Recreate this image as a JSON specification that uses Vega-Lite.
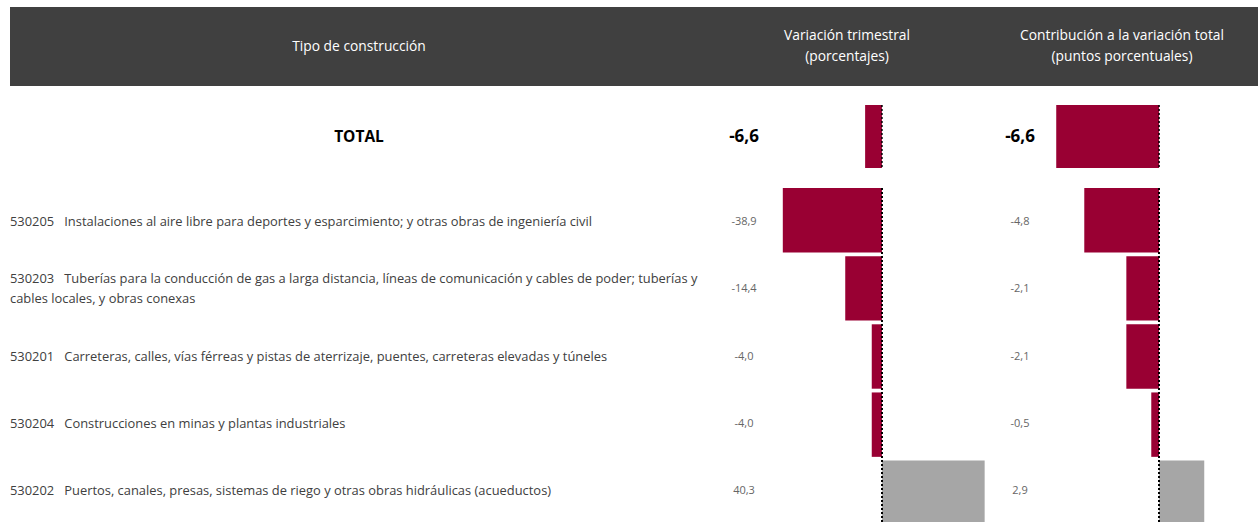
{
  "$schema": "https://vega.github.io/schema/vega-lite/v6.json",
  "padding": {"left": 10, "top": 7, "right": 0, "bottom": 0},
  "autosize": {"type": "pad"},
  "spacing": 18,
  "config": {
    "view": {"stroke": null},
    "font": "Open Sans",
    "locale": {"number": {"decimal": ",", "thousands": ".", "grouping": [3], "currency": ["", " €"], "minus": "-"}}
  },
  "datasets": {
    "header": [
      {"col": "tipo", "title": "Tipo de construcción"},
      {"col": "var", "title": "Variación trimestral\n(porcentajes)"},
      {"col": "contrib", "title": "Contribución a la variación total\n(puntos porcentuales)"}
    ],
    "total": [
      {"row": "TOTAL", "label": "TOTAL", "var": -6.6, "contrib": -6.6}
    ],
    "rows": [
      {"code": "530205", "label": "530205\u00a0\u00a0\u00a0Instalaciones al aire libre para deportes y esparcimiento; y otras obras de ingeniería civil", "var": -38.9, "contrib": -4.8},
      {"code": "530203", "label": "530203\u00a0\u00a0\u00a0Tuberías para la conducción de gas a larga distancia, líneas de comunicación y cables de poder; tuberías y\ncables locales, y obras conexas", "var": -14.4, "contrib": -2.1},
      {"code": "530201", "label": "530201\u00a0\u00a0\u00a0Carreteras, calles, vías férreas y pistas de aterrizaje, puentes, carreteras elevadas y túneles", "var": -4.0, "contrib": -2.1},
      {"code": "530204", "label": "530204\u00a0\u00a0\u00a0Construcciones en minas y plantas industriales", "var": -4.0, "contrib": -0.5},
      {"code": "530202", "label": "530202\u00a0\u00a0\u00a0Puertos, canales, presas, sistemas de riego y otras obras hidráulicas (acueductos)", "var": 40.3, "contrib": 2.9}
    ]
  },
  "vconcat": [
    {
      "spacing": 0,
      "bounds": "flush",
      "hconcat": [
        {
          "width": 698, "height": 79,
          "view": {"fill": "#404040", "stroke": null},
          "data": {"name": "header"},
          "transform": [{"filter": "datum.col === 'tipo'"}],
          "mark": {"type": "text", "color": "white", "fontSize": 13.8, "lineBreak": "\n", "lineHeight": 21},
          "encoding": {"text": {"field": "title", "type": "nominal"}}
        },
        {
          "width": 278, "height": 79,
          "view": {"fill": "#404040", "stroke": null},
          "data": {"name": "header"},
          "transform": [{"filter": "datum.col === 'var'"}],
          "mark": {"type": "text", "color": "white", "fontSize": 13.8, "lineBreak": "\n", "lineHeight": 21, "dy": -10.5},
          "encoding": {"text": {"field": "title", "type": "nominal"}}
        },
        {
          "width": 272, "height": 79,
          "view": {"fill": "#404040", "stroke": null},
          "data": {"name": "header"},
          "transform": [{"filter": "datum.col === 'contrib'"}],
          "mark": {"type": "text", "color": "white", "fontSize": 13.8, "lineBreak": "\n", "lineHeight": 21, "dy": -10.5},
          "encoding": {"text": {"field": "title", "type": "nominal"}}
        }
      ]
    },
    {
      "spacing": 0,
      "bounds": "flush",
      "hconcat": [
        {
          "width": 698, "height": 63,
          "data": {"name": "total"},
          "mark": {"type": "text", "fontWeight": "bold", "fontSize": 15.5, "color": "black"},
          "encoding": {"text": {"field": "label", "type": "nominal"}}
        },
        {
          "width": 72, "height": 63,
          "data": {"name": "total"},
          "mark": {"type": "text", "fontWeight": "bold", "fontSize": 17, "color": "black"},
          "encoding": {"text": {"field": "var", "type": "quantitative", "format": ".1f"}}
        },
        {
          "width": 210, "height": 63,
          "data": {"name": "total"},
          "layer": [
            {
              "mark": {"type": "bar"},
              "encoding": {
                "x": {"field": "var", "type": "quantitative", "scale": {"domain": [-40, 42.4], "nice": false, "zero": true}, "axis": null},
                "y": {"field": "row", "type": "nominal", "scale": {"paddingInner": 0, "paddingOuter": 0}, "axis": null},
                "color": {"condition": {"test": "datum.var < 0", "value": "#990033"}, "value": "#a6a6a6"}
              }
            },
            {
              "mark": {"type": "rule", "color": "black", "strokeWidth": 1.5, "strokeDash": [2, 2]},
              "encoding": {"x": {"datum": 0, "type": "quantitative"}}
            }
          ]
        },
        {
          "width": 60, "height": 63,
          "data": {"name": "total"},
          "mark": {"type": "text", "fontWeight": "bold", "fontSize": 17, "color": "black"},
          "encoding": {"text": {"field": "contrib", "type": "quantitative", "format": ".1f"}}
        },
        {
          "width": 208, "height": 63,
          "data": {"name": "total"},
          "layer": [
            {
              "mark": {"type": "bar"},
              "encoding": {
                "x": {"field": "contrib", "type": "quantitative", "scale": {"domain": [-7, 6.35], "nice": false, "zero": true}, "axis": null},
                "y": {"field": "row", "type": "nominal", "scale": {"paddingInner": 0, "paddingOuter": 0}, "axis": null},
                "color": {"condition": {"test": "datum.contrib < 0", "value": "#990033"}, "value": "#a6a6a6"}
              }
            },
            {
              "mark": {"type": "rule", "color": "black", "strokeWidth": 1.5, "strokeDash": [2, 2]},
              "encoding": {"x": {"datum": 0, "type": "quantitative"}}
            }
          ]
        }
      ]
    },
    {
      "spacing": 0,
      "bounds": "flush",
      "hconcat": [
        {
          "width": 698, "height": 337,
          "data": {"name": "rows"},
          "mark": {"type": "text", "align": "left", "fontSize": 12.9, "color": "#404040", "lineBreak": "\n", "lineHeight": 20, "dy": {"expr": "indexof(datum.label, '\\n') >= 0 ? -10 : 0"}},
          "encoding": {
            "x": {"datum": 0, "type": "quantitative", "scale": {"domain": [0, 1]}, "axis": null},
            "y": {"field": "code", "type": "nominal", "sort": null, "scale": {"paddingInner": 0.055, "paddingOuter": 0}, "axis": null},
            "text": {"field": "label", "type": "nominal"}
          }
        },
        {
          "width": 72, "height": 337,
          "data": {"name": "rows"},
          "mark": {"type": "text", "fontSize": 11, "color": "#666666"},
          "encoding": {
            "y": {"field": "code", "type": "nominal", "sort": null, "scale": {"paddingInner": 0.055, "paddingOuter": 0}, "axis": null},
            "text": {"field": "var", "type": "quantitative", "format": ".1f"}
          }
        },
        {
          "width": 210, "height": 337,
          "data": {"name": "rows"},
          "layer": [
            {
              "mark": {"type": "bar"},
              "encoding": {
                "x": {"field": "var", "type": "quantitative", "scale": {"domain": [-40, 42.4], "nice": false, "zero": true}, "axis": null},
                "y": {"field": "code", "type": "nominal", "sort": null, "scale": {"paddingInner": 0.055, "paddingOuter": 0}, "axis": null},
                "color": {"condition": {"test": "datum.var < 0", "value": "#990033"}, "value": "#a6a6a6"}
              }
            },
            {
              "mark": {"type": "rule", "color": "black", "strokeWidth": 1.5, "strokeDash": [2, 2]},
              "encoding": {"x": {"datum": 0, "type": "quantitative"}}
            }
          ]
        },
        {
          "width": 60, "height": 337,
          "data": {"name": "rows"},
          "mark": {"type": "text", "fontSize": 11, "color": "#666666"},
          "encoding": {
            "y": {"field": "code", "type": "nominal", "sort": null, "scale": {"paddingInner": 0.055, "paddingOuter": 0}, "axis": null},
            "text": {"field": "contrib", "type": "quantitative", "format": ".1f"}
          }
        },
        {
          "width": 208, "height": 337,
          "data": {"name": "rows"},
          "layer": [
            {
              "mark": {"type": "bar"},
              "encoding": {
                "x": {"field": "contrib", "type": "quantitative", "scale": {"domain": [-7, 6.35], "nice": false, "zero": true}, "axis": null},
                "y": {"field": "code", "type": "nominal", "sort": null, "scale": {"paddingInner": 0.055, "paddingOuter": 0}, "axis": null},
                "color": {"condition": {"test": "datum.contrib < 0", "value": "#990033"}, "value": "#a6a6a6"}
              }
            },
            {
              "mark": {"type": "rule", "color": "black", "strokeWidth": 1.5, "strokeDash": [2, 2]},
              "encoding": {"x": {"datum": 0, "type": "quantitative"}}
            }
          ]
        }
      ]
    }
  ]
}
